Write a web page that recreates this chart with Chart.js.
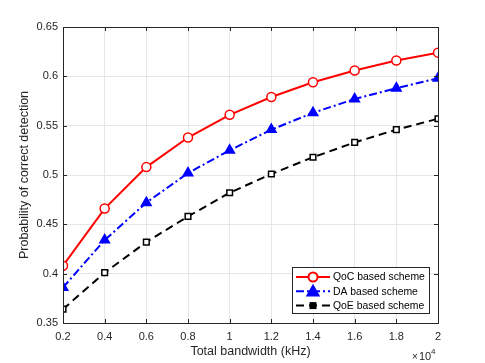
<!DOCTYPE html>
<html>
<head>
<meta charset="utf-8">
<script src="https://cdn.jsdelivr.net/npm/chart.js@4.4.1/dist/chart.umd.min.js"></script>
<style>
  html, body { margin: 0; padding: 0; background: #fff; }
  #wrap { width: 485px; height: 363px; }
</style>
</head>
<body>
<div id="wrap"><canvas id="lineChart"></canvas></div>
<script>
// total bandwidth in kHz
var bandwidth = [2000, 4000, 6000, 8000, 10000, 12000, 14000, 16000, 18000, 20000];
var qocScheme = [0.408, 0.466, 0.508, 0.538, 0.561, 0.579, 0.594, 0.606, 0.616, 0.624];
var daScheme  = [0.386, 0.434, 0.472, 0.502, 0.525, 0.546, 0.563, 0.577, 0.588, 0.598];
var qoeScheme = [0.364, 0.401, 0.432, 0.458, 0.482, 0.501, 0.518, 0.533, 0.546, 0.557];
var yTicks = [0.35, 0.4, 0.45, 0.5, 0.55, 0.6, 0.65];

var axisColor = "#262626";
var font = "'Liberation Sans', Arial, sans-serif";

function pts(ys) {
    return bandwidth.map(function (x, i) { return { x: x, y: ys[i] }; });
}

var series = [
    { label: "QoC based scheme", data: qocScheme, color: "#ff0000", style: "circle", dash: [], fill: "#ffffff", r: 4.5 },
    { label: "DA based scheme",  data: daScheme,  color: "#0000ff", style: "triangle", dash: [8, 3, 2, 3], fill: "#0000ff", r: 5.5 },
    { label: "QoE based scheme", data: qoeScheme, color: "#000000", style: "rect", dash: [8, 5], fill: "#ffffff", r: 4 }
];

// box, inner ticks, exponent label and legend like MATLAB
var decor = {
    id: "decor",
    afterDatasetsDraw: function (chart) {
        var c = chart.ctx, a = chart.chartArea;
        var sx = chart.scales.x, sy = chart.scales.y;
        c.save();
        c.strokeStyle = axisColor;
        c.lineWidth = 1;
        c.setLineDash([]);
        c.beginPath();
        sx.ticks.forEach(function (t) {
            var px = Math.round(sx.getPixelForValue(t.value)) + 0.5;
            c.moveTo(px, a.bottom); c.lineTo(px, a.bottom - 4);
            c.moveTo(px, a.top); c.lineTo(px, a.top + 4);
        });
        sy.ticks.forEach(function (t) {
            var py = Math.round(sy.getPixelForValue(t.value)) + 0.5;
            c.moveTo(a.left, py); c.lineTo(a.left + 4, py);
            c.moveTo(a.right, py); c.lineTo(a.right - 4, py);
        });
        c.stroke();
        c.strokeRect(Math.round(a.left) + 0.5, Math.round(a.top) + 0.5,
                     Math.round(a.right - a.left), Math.round(a.bottom - a.top));

        // x10^4
        c.fillStyle = axisColor;
        c.textBaseline = "alphabetic";
        c.textAlign = "left";
        c.font = "10px " + font;
        c.fillText("\u00d7", 412, 360);
        c.font = "11px " + font;
        c.fillText("10", 419, 360);
        c.font = "8px " + font;
        c.fillText("4", 431, 354);

        // legend
        var lx = 292.5, ly = 267.5, lw = 137, lh = 46;
        c.fillStyle = "#ffffff";
        c.fillRect(lx, ly, lw, lh);
        c.strokeStyle = axisColor;
        c.strokeRect(lx, ly, lw, lh);
        c.font = "10.4px " + font;
        c.textBaseline = "middle";
        series.forEach(function (s, i) {
            var y = 277 + i * 14.3;
            c.strokeStyle = s.color;
            c.lineWidth = 2;
            c.setLineDash(s.dash);
            c.beginPath();
            c.moveTo(296, y); c.lineTo(330, y);
            c.stroke();
            c.setLineDash([]);
            c.fillStyle = s.fill;
            c.beginPath();
            if (s.style === "circle") {
                c.arc(313, y, s.r, 0, Math.PI * 2);
            } else if (s.style === "triangle") {
                c.moveTo(313, y - s.r); c.lineTo(313 + s.r, y + s.r * 0.75); c.lineTo(313 - s.r, y + s.r * 0.75); c.closePath();
            } else {
                c.rect(313 - 3.5, y - 3.5, 7, 7);
                c.fillStyle = "#000";
            }
            c.fill();
            if (s.style !== "rect") c.stroke();
            c.fillStyle = "#000";
            c.fillText(s.label, 333, y + 0.5);
        });
        c.restore();
    }
};

var ctx = document.getElementById("lineChart");
var myChart = new Chart(ctx, {
    type: "line",
    data: {
        datasets: series.map(function (s) {
            return {
                label: s.label,
                data: pts(s.data),
                borderColor: s.color,
                borderWidth: 2,
                borderDash: s.dash,
                pointStyle: s.style,
                pointRadius: s.r,
                pointBorderWidth: 1.5,
                pointBackgroundColor: s.fill,
                pointBorderColor: s.color,
                tension: 0,
                fill: false
            };
        })
    },
    options: {
        responsive: true,
        maintainAspectRatio: false,
        animation: false,
        layout: { padding: { top: 27, right: 47, left: 0, bottom: 0 } },
        plugins: {
            legend: { display: false },
            tooltip: { enabled: false }
        },
        scales: {
            x: {
                type: "linear",
                min: 2000,
                max: 20000,
                afterFit: function (scale) { scale.height = 40; },
                ticks: {
                    stepSize: 2000,
                    padding: 7,
                    color: axisColor,
                    font: { family: font, size: 11 },
                    maxRotation: 0,
                    callback: function (v) { return String(+(v / 10000).toFixed(2)); }
                },
                grid: { color: "#e6e6e6", drawTicks: false },
                border: { display: false },
                title: {
                    display: true,
                    text: "Total bandwidth (kHz)",
                    color: axisColor,
                    font: { family: font, size: 12.5 },
                    padding: { top: 3.5, bottom: 4 }
                }
            },
            y: {
                min: 0.35,
                max: 0.65,
                afterFit: function (scale) { scale.width = 63; },
                afterBuildTicks: function (scale) {
                    scale.ticks = yTicks.map(function (v) { return { value: v }; });
                },
                ticks: {
                    padding: 5,
                    color: axisColor,
                    font: { family: font, size: 11 },
                    callback: function (v) { return String(+v.toFixed(2)); }
                },
                grid: { color: "#e6e6e6", drawTicks: false },
                border: { display: false },
                title: {
                    display: true,
                    text: "Probability of correct detection",
                    color: axisColor,
                    font: { family: font, size: 12.5 },
                    padding: { top: 17.5, bottom: 4 }
                }
            }
        }
    },
    plugins: [decor]
});
</script>
</body>
</html>
